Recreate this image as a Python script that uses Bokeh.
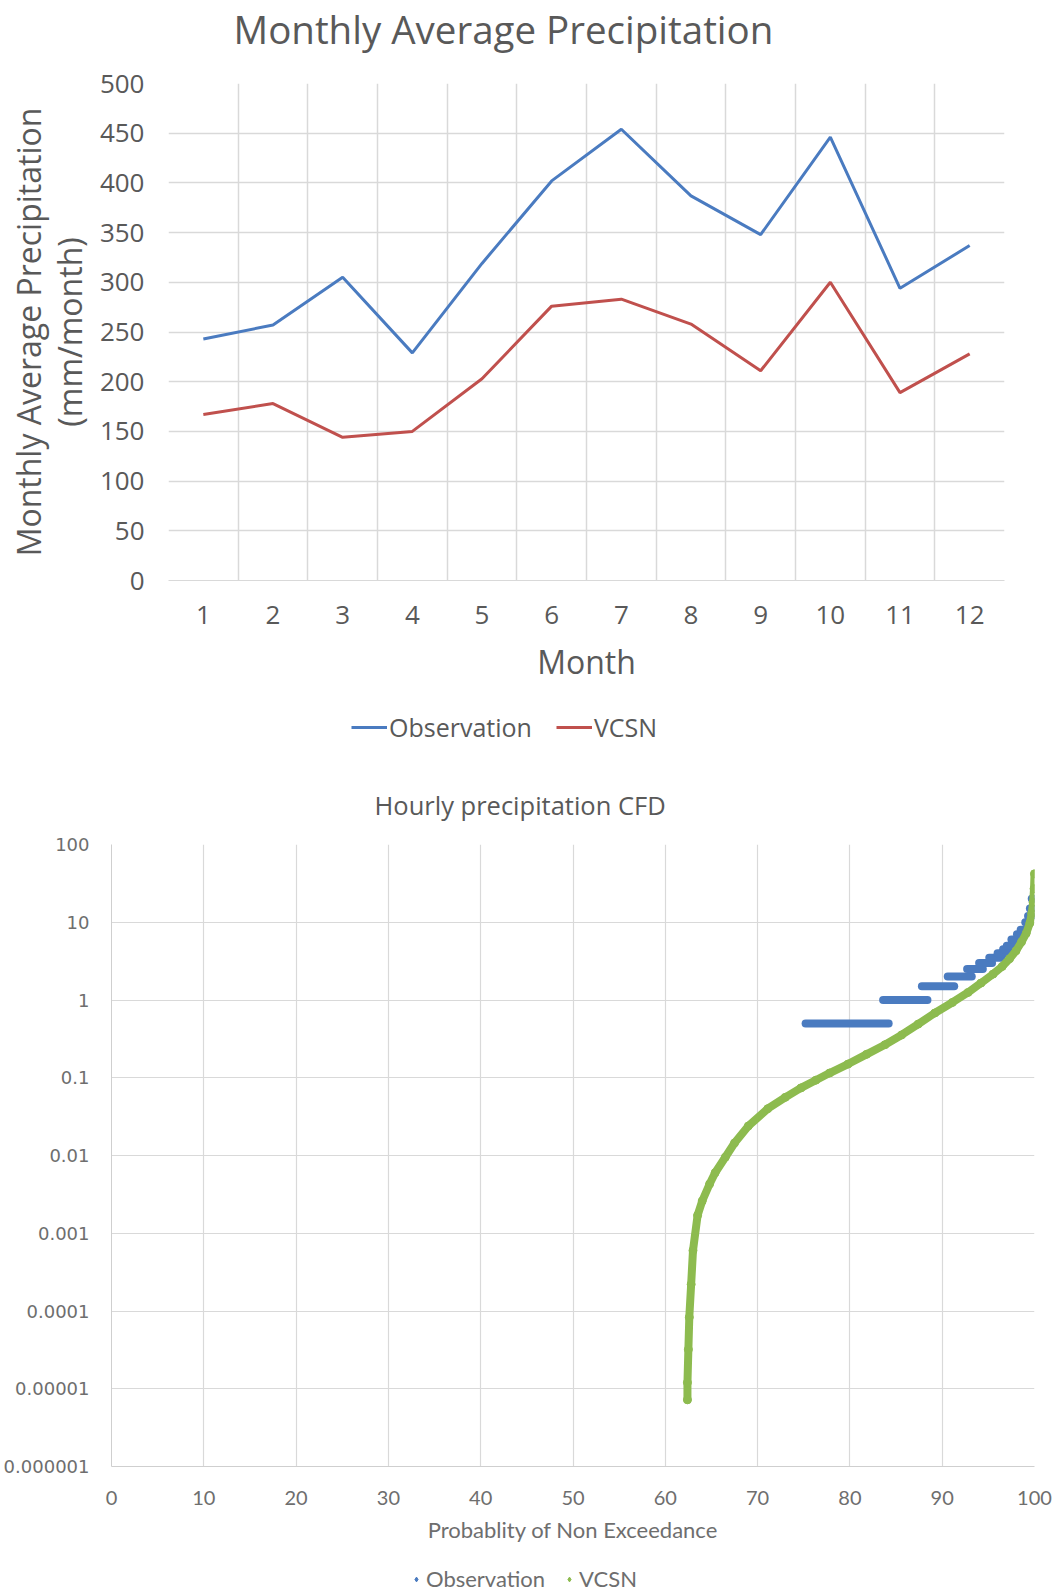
from bokeh.plotting import figure
from bokeh.models import (FixedTicker, Legend, LegendItem, Range1d, Label, ColumnDataSource)
from bokeh.embed import file_html
from bokeh.resources import INLINE

# ---------------- data: monthly average precipitation ----------------
months = [1, 2, 3, 4, 5, 6, 7, 8, 9, 10, 11, 12]
obs_monthly = [243, 257, 305, 229, 319, 402, 454, 387, 348, 446, 294, 337]
vcsn_monthly = [167, 178, 144, 150, 203, 276, 283, 258, 211, 300, 189, 228]
monthly_yticks = [0, 50, 100, 150, 200, 250, 300, 350, 400, 450, 500]

# ---------------- data: hourly precipitation CFD ----------------
cfd_vcsn_x = [62.4, 62.4, 62.5, 62.6, 62.8, 63.0, 63.5, 64.0, 64.8, 65.4, 66.5, 67.5,
              69.0, 71.1, 73.0, 74.7, 76.3, 77.8, 79.8, 81.8, 83.8, 85.6, 87.4, 89.2,
              91.1, 92.8, 94.2, 95.5, 96.5, 97.3, 98.0, 98.6, 99.1, 99.5, 99.7, 99.85,
              99.95, 100.0]
cfd_vcsn_y = [7.2e-6, 1.2e-5, 3.2e-5, 8.3e-5, 2.2e-4, 6e-4, 1.7e-3, 2.6e-3, 4.3e-3, 6.0e-3,
              0.0095, 0.0145, 0.024, 0.040, 0.056, 0.074, 0.093, 0.115, 0.15, 0.20, 0.266,
              0.355, 0.49, 0.68, 0.93, 1.25, 1.65, 2.15, 2.7, 3.4, 4.3, 5.6, 7.2, 9.8, 13.0,
              18.0, 27.0, 42.0]
cfd_obs_value = [0.5, 1.0, 1.5, 2.0, 2.5, 3.0, 3.5, 4.0, 4.5, 5.0, 6.0, 7.0, 8.0, 10.0, 12.0, 15.0, 20.0]
cfd_obs_start = [75.2, 83.6, 87.8, 90.6, 92.7, 94.0, 95.1, 96.0, 96.6, 97.0, 97.5, 98.1, 98.5, 99.0, 99.3, 99.5, 99.7]
cfd_obs_end = [84.2, 88.4, 91.3, 93.2, 94.4, 95.4, 96.4, 97.1, 97.6, 98.0, 98.5, 98.9, 99.2, 99.5, 99.7, 99.8, 99.9]
cfd_xticks = [0, 10, 20, 30, 40, 50, 60, 70, 80, 90, 100]
cfd_yticks = [1e-6, 1e-5, 1e-4, 1e-3, 1e-2, 1e-1, 1, 10, 100]
cfd_ytick_labels = ["0.000001", "0.00001", "0.0001", "0.001", "0.01", "0.1", "1", "10", "100"]

BLUE = "#4A7BC0"
RED = "#C0504D"
GREEN = "#8DBB4F"
GRID = "#D9D9D9"
TXT = "#595959"
TXT2 = "#6E6E6E"
FONT = "Open Sans"
FONT2 = "Lato"
W = 1054


def blank_fig(height):
    f = figure(width=W, height=height, output_backend="svg", toolbar_location=None,
               x_axis_location=None, y_axis_location=None,
               x_range=Range1d(0, W), y_range=Range1d(0, height), min_border=0)
    f.grid.visible = False
    f.outline_line_color = None
    return f


def title_fig(height, text, size, left, center_from_top, color):
    f = blank_fig(height)
    f.add_layout(Label(x=left, y=height - center_from_top, text=text, text_font=FONT,
                       text_font_size=size, text_color=color, text_baseline="middle",
                       text_align="left"))
    return f


# ================= Title 1 =================
t1 = title_fig(60, "Monthly Average Precipitation", "38.5px", 233, 28.5, TXT)

# ================= Figure 1 =================
p1 = figure(width=W, height=630, output_backend="svg", toolbar_location=None,
            x_range=Range1d(0.5, 12.5), y_range=Range1d(0, 500),
            min_border_left=168, min_border_right=50, min_border_top=23, min_border_bottom=110)
p1.outline_line_color = None

src1 = ColumnDataSource(dict(m=months, obs=obs_monthly, vcsn=vcsn_monthly))
p1.line("m", "obs", source=src1, line_color=BLUE, line_width=3)
p1.line("m", "vcsn", source=src1, line_color=RED, line_width=3)

p1.xaxis.ticker = FixedTicker(ticks=months)
p1.yaxis.ticker = FixedTicker(ticks=monthly_yticks)
p1.xgrid.ticker = FixedTicker(ticks=[m - 0.5 for m in months] + [months[-1] + 0.5])
p1.ygrid.ticker = FixedTicker(ticks=monthly_yticks)
for g in (p1.xgrid, p1.ygrid):
    g.grid_line_color = GRID
    g.grid_line_width = 1.5
for ax in (p1.xaxis, p1.yaxis):
    ax.major_tick_line_color = None
    ax.minor_tick_line_color = None
    ax.major_tick_out = 0
    ax.major_tick_in = 0
    ax.minor_tick_out = 0
    ax.minor_tick_in = 0
    ax.major_label_text_font = FONT
    ax.major_label_text_font_size = "26px"
    ax.major_label_text_color = TXT
    ax.axis_label_text_font = FONT
    ax.axis_label_text_font_style = "normal"
    ax.axis_label_text_color = TXT
p1.xaxis.axis_line_color = GRID
p1.yaxis.axis_line_color = None
p1.xaxis.major_label_standoff = 25
p1.yaxis.major_label_standoff = 24
p1.xaxis.axis_label = "Month"
p1.xaxis.axis_label_text_font_size = "32px"
p1.xaxis.axis_label_standoff = 13
p1.yaxis.axis_label = "Monthly Average Precipitation\n(mm/month)"
p1.yaxis.axis_label_text_font_size = "32px"
p1.yaxis.axis_label_text_line_height = 0.95
p1.yaxis.axis_label_standoff = 6

# ================= Legend 1 =================
l1 = blank_fig(94)
lk_obs = l1.line(x=[-20, -10], y=[-20, -20], line_color=BLUE, line_width=3)
lk_vcsn = l1.line(x=[-20, -10], y=[-20, -20], line_color=RED, line_width=3)
l1.add_layout(Legend(items=[LegendItem(label="Observation", renderers=[lk_obs]),
                            LegendItem(label="VCSN", renderers=[lk_vcsn])],
                     orientation="horizontal", location=(351, 40),
                     label_text_font=FONT, label_text_font_size="25px", label_text_color=TXT,
                     glyph_width=36, glyph_height=24, label_standoff=2, spacing=24,
                     padding=0, margin=0, background_fill_alpha=0, border_line_color=None))

# ================= Title 2 =================
t2 = title_fig(40, "Hourly precipitation  CFD", "25.5px", 374, 20, TXT)

# ================= Figure 2 =================
p2 = figure(width=W, height=722, output_backend="svg", toolbar_location=None,
            x_range=Range1d(0, 100), y_range=Range1d(1e-6, 100), y_axis_type="log",
            min_border_left=109, min_border_right=20, min_border_top=20, min_border_bottom=80)
p2.outline_line_color = None

src_v = ColumnDataSource(dict(x=cfd_vcsn_x, y=cfd_vcsn_y))
src_o = ColumnDataSource(dict(x0=cfd_obs_start, x1=cfd_obs_end, y=cfd_obs_value))

p2.segment(x0="x0", y0="y", x1="x1", y1="y", source=src_o,
           line_color=BLUE, line_width=8, line_cap="round")
p2.line("x", "y", source=src_v, line_color=GREEN, line_width=8, line_cap="round")
p2.scatter("x", "y", source=src_v, size=8, color=GREEN)

p2.xaxis.ticker = FixedTicker(ticks=cfd_xticks)
p2.yaxis.ticker = FixedTicker(ticks=cfd_yticks)
p2.xgrid.ticker = FixedTicker(ticks=cfd_xticks)
p2.ygrid.ticker = FixedTicker(ticks=cfd_yticks)
overrides = {}
for t, lab in zip(cfd_yticks, cfd_ytick_labels):
    overrides[t] = lab
    overrides[lab] = lab
p2.yaxis.major_label_overrides = overrides
for g in (p2.xgrid, p2.ygrid):
    g.grid_line_color = GRID
    g.grid_line_width = 1.2
for ax in (p2.xaxis, p2.yaxis):
    ax.major_tick_line_color = None
    ax.minor_tick_line_color = None
    ax.major_tick_out = 0
    ax.major_tick_in = 0
    ax.minor_tick_out = 0
    ax.minor_tick_in = 0
    ax.major_label_text_color = TXT2
    ax.axis_label_text_color = TXT2
    ax.axis_label_text_font_style = "normal"
p2.xaxis.axis_line_color = "#CFCFCF"
p2.yaxis.axis_line_color = "#CFCFCF"
p2.yaxis.major_label_text_font = "DejaVu Sans"
p2.yaxis.major_label_text_font_size = "18px"
p2.yaxis.major_label_standoff = 22
p2.xaxis.major_label_text_font = FONT2
p2.xaxis.major_label_text_font_size = "20px"
p2.xaxis.major_label_standoff = 24
p2.xaxis.axis_label = "Probablity of Non Exceedance"
p2.xaxis.axis_label_text_font = FONT2
p2.xaxis.axis_label_text_font_size = "22px"
p2.xaxis.axis_label_standoff = 8

# ================= Legend 2 =================
l2 = blank_fig(46)
lk2_o = l2.scatter(x=[-20], y=[-20], marker="diamond", size=10, color=BLUE)
lk2_v = l2.scatter(x=[-20], y=[-20], marker="diamond", size=10, color=GREEN)
l2.add_layout(Legend(items=[LegendItem(label="Observation", renderers=[lk2_o]),
                            LegendItem(label="VCSN", renderers=[lk2_v])],
                     orientation="horizontal", location=(410, 0),
                     label_text_font=FONT2, label_text_font_size="22px",
                     label_text_color=TXT2,
                     glyph_width=12, glyph_height=12, label_standoff=4, spacing=18,
                     padding=0, margin=0, background_fill_alpha=0, border_line_color=None))

open("out.html", "w").write(file_html([t1, p1, l1, t2, p2, l2], INLINE))
